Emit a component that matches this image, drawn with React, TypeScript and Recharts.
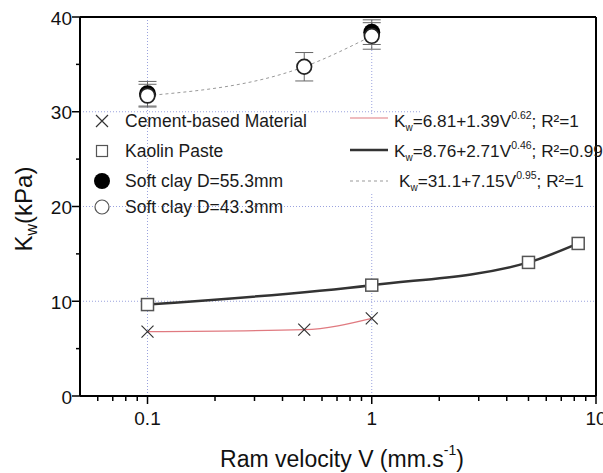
import { ComposedChart, Line, XAxis, YAxis, CartesianGrid, ReferenceLine, ErrorBar } from 'recharts';

const FONT = '"Liberation Sans", Arial, sans-serif';

// Cement-based Material
const cementV = [0.1, 0.5, 1];
const cementK = [6.8, 7.0, 8.2];
// Kaolin Paste
const kaolinV = [0.1, 1, 5, 8.33];
const kaolinK = [9.65, 11.7, 14.1, 16.1];
// Soft clay D=55.3mm
const clay55V = [0.1, 1];
const clay55K = [31.9, 38.4];
const clay55Err = [1.3, 1.3];
// Soft clay D=43.3mm
const clay43V = [0.1, 0.5, 1];
const clay43K = [31.7, 34.75, 38.0];
const clay43Err = [1.2, 1.5, 1.4];

const xTicks = [0.06, 0.07, 0.08, 0.09, 0.1, 0.2, 0.3, 0.4, 0.5, 0.6, 0.7, 0.8, 0.9, 1, 2, 3, 4, 5, 6, 7, 8, 9, 10];
const xMajor = [0.1, 1, 10];
const yTicks = [0, 5, 10, 15, 20, 25, 30, 35, 40];
const yMajor = [0, 10, 20, 30, 40];

const cementData = cementV.map((v, i) => ({ v, k: cementK[i] }));
const kaolinData = kaolinV.map((v, i) => ({ v, k: kaolinK[i] }));
const clay55Data = clay55V.map((v, i) => ({ v, k: clay55K[i], err: clay55Err[i] }));
const clay43Data = clay43V.map((v, i) => ({ v, k: clay43K[i], err: clay43Err[i] }));

function XTick(props: any) {
    const { x, y, payload } = props;
    const major = xMajor.includes(payload.value);
    return (
        <g>
            <line x1={x} x2={x} y1={y} y2={y + (major ? 8 : 5)} stroke="#000" strokeWidth={1.5} />
            {major && (
                <text x={x} y={y + 29} textAnchor="middle" fontSize={19} fontFamily={FONT} fill="#111">
                    {payload.value}
                </text>
            )}
        </g>
    );
}

function YTick(props: any) {
    const { x, y, payload } = props;
    const major = yMajor.includes(payload.value);
    return (
        <g>
            <line x1={x} x2={x - (major ? 8 : 4)} y1={y} y2={y} stroke="#000" strokeWidth={1.5} />
            {major && (
                <text x={x - 8} y={y + 7.5} textAnchor="end" fontSize={19} fontFamily={FONT} fill="#111">
                    {payload.value}
                </text>
            )}
        </g>
    );
}

const crossDot = (p: any) => (
    <path
        key={`x-${p.index}`}
        d={`M${p.cx - 6},${p.cy - 6}L${p.cx + 6},${p.cy + 6}M${p.cx + 6},${p.cy - 6}L${p.cx - 6},${p.cy + 6}`}
        stroke="#333"
        strokeWidth={1.2}
        fill="none"
    />
);

const squareDot = (p: any) => (
    <rect key={`s-${p.index}`} x={p.cx - 6} y={p.cy - 6} width={12} height={12} fill="#fff" stroke="#555" strokeWidth={1.5} />
);

const filledDot = (p: any) => <circle key={`f-${p.index}`} cx={p.cx} cy={p.cy} r={8.5} fill="#000" />;

const openDot = (p: any) => (
    <circle key={`o-${p.index}`} cx={p.cx} cy={p.cy} r={7.3} fill="#fff" stroke="#222" strokeWidth={1.7} />
);

function Overlay() {
    return (
        <svg
            width={603}
            height={473}
            style={{ position: 'absolute', left: 0, top: 0, pointerEvents: 'none' }}
            fontFamily={FONT}
        >
            <rect x={346} y={114} width={248} height={78} fill="#fff" />
            <rect x={420} y={109} width={174} height={6} fill="#fff" />

            {/* left legend */}
            <path d="M96,115L108,127M108,115L96,127" stroke="#333" strokeWidth={1.2} />
            <rect x={96.5} y={145.5} width={11} height={11} fill="#fff" stroke="#555" strokeWidth={1.2} />
            <circle cx={102} cy={181} r={8} fill="#000" />
            <circle cx={102} cy={207} r={7} fill="#fff" stroke="#555" strokeWidth={1.2} />
            <g fontSize={17.5} fill="#1a1a1a">
                <text x={125} y={126.5}>Cement-based Material</text>
                <text x={125} y={156.7}>Kaolin Paste</text>
                <text x={125} y={186.7}>Soft clay D=55.3mm</text>
                <text x={125} y={212.7}>Soft clay D=43.3mm</text>
            </g>

            {/* right legend */}
            <line x1={350} x2={388} y1={118} y2={118} stroke="#e07a80" strokeWidth={1.2} />
            <line x1={350} x2={388} y1={150} y2={150} stroke="#333" strokeWidth={2.5} />
            <line x1={350} x2={388} y1={181} y2={181} stroke="#999" strokeWidth={1} strokeDasharray="3 3" />
            <g fontSize={17.2} fill="#1a1a1a">
                <text x={394} y={126.7}>
                    K<tspan fontSize={10} dy={4}>w</tspan>
                    <tspan dy={-4}>=6.81+1.39V</tspan>
                    <tspan fontSize={10.5} dy={-8}>0.62</tspan>
                    <tspan dy={8}>; R²=1</tspan>
                </text>
                <text x={394} y={156.7}>
                    K<tspan fontSize={10} dy={4}>w</tspan>
                    <tspan dy={-4}>=8.76+2.71V</tspan>
                    <tspan fontSize={10.5} dy={-8}>0.46</tspan>
                    <tspan dy={8}>; R²=0.99</tspan>
                </text>
                <text x={399} y={186.7}>
                    K<tspan fontSize={10} dy={4}>w</tspan>
                    <tspan dy={-4}>=31.1+7.15V</tspan>
                    <tspan fontSize={10.5} dy={-8}>0.95</tspan>
                    <tspan dy={8}>; R²=1</tspan>
                </text>
            </g>

            {/* axis titles */}
            <text x={342} y={467} textAnchor="middle" fontSize={23} fill="#111">
                Ram velocity V (mm.s<tspan fontSize={14} dy={-12}>-1</tspan>
                <tspan dy={12}>)</tspan>
            </text>
            <text transform="translate(32,209) rotate(-90)" textAnchor="middle" fontSize={24} fill="#111">
                K<tspan fontSize={16} dy={5}>w</tspan>
                <tspan dy={-5}>(kPa)</tspan>
            </text>
        </svg>
    );
}

export default function App() {
    return (
        <div style={{ position: 'absolute', left: 0, top: 0, width: 603, height: 473, overflow: 'hidden', background: '#fff' }}>
            <ComposedChart width={603} height={473} margin={{ top: 17, right: 7, bottom: 0, left: 0 }}>
                <CartesianGrid
                    horizontalValues={[10, 20, 30]}
                    verticalValues={[0.1, 1]}
                    stroke="#9aa2de"
                    strokeDasharray="1 2"
                />
                <XAxis
                    dataKey="v"
                    type="number"
                    scale="log"
                    domain={[0.05, 10]}
                    allowDataOverflow
                    ticks={xTicks}
                    interval={0}
                    height={77}
                    tickSize={0}
                    tickMargin={0}
                    tickLine={false}
                    tick={XTick}
                    axisLine={{ stroke: '#000', strokeWidth: 2 }}
                />
                <YAxis
                    type="number"
                    domain={[0, 40]}
                    ticks={yTicks}
                    interval={0}
                    width={80}
                    tickSize={0}
                    tickMargin={0}
                    tickLine={false}
                    tick={YTick}
                    axisLine={{ stroke: '#000', strokeWidth: 2 }}
                />
                <ReferenceLine y={40} stroke="#000" strokeWidth={2} />
                <ReferenceLine x={10} stroke="#000" strokeWidth={2} />
                <Line
                    data={cementData}
                    dataKey="k"
                    type="monotone"
                    stroke="#e07a80"
                    strokeWidth={1.2}
                    dot={crossDot}
                    activeDot={false}
                    isAnimationActive={false}
                />
                <Line
                    data={kaolinData}
                    dataKey="k"
                    type="monotone"
                    stroke="#333"
                    strokeWidth={2.5}
                    dot={squareDot}
                    activeDot={false}
                    isAnimationActive={false}
                />
                <Line
                    data={clay55Data}
                    dataKey="k"
                    stroke="none"
                    dot={filledDot}
                    activeDot={false}
                    isAnimationActive={false}
                >
                    <ErrorBar dataKey="err" width={9} stroke="#666" strokeWidth={1} />
                </Line>
                <Line
                    data={clay43Data}
                    dataKey="k"
                    type="monotone"
                    stroke="#999"
                    strokeWidth={1}
                    strokeDasharray="3 3"
                    dot={openDot}
                    activeDot={false}
                    isAnimationActive={false}
                >
                    <ErrorBar dataKey="err" width={9} stroke="#666" strokeWidth={1} />
                </Line>
            </ComposedChart>
            <Overlay />
        </div>
    );
}
